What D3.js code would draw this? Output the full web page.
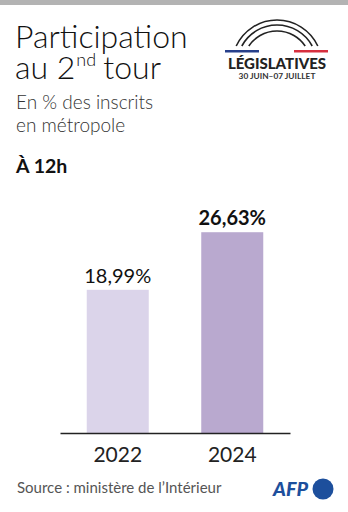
<!DOCTYPE html>
<html lang="fr">
<head>
<meta charset="utf-8">
<script src="https://cdn.jsdelivr.net/npm/d3@7"></script>
<style>
  html, body { margin: 0; padding: 0; background: #fff; }
  svg { display: block; font-family: Lato, "Noto Sans", sans-serif; }
</style>
</head>
<body>
<svg id="chart" width="348" height="512"></svg>
<script>
// Participation au 2nd tour, à 12h, en % des inscrits en métropole
const years = ["2022", "2024"];
const turnout = [18.99, 26.63];
const barColors = ["#dbd4ea", "#b9a9cf"];
const labelWeights = [400, 700];

const fr = d3.formatLocale({ decimal: ",", thousands: " ", grouping: [3], currency: ["", " €"] });
const pct = v => fr.format(".2f")(v) + "%";

const svg = d3.select("#chart");

// top grey rule
svg.append("rect").attr("x", 0).attr("y", 0).attr("width", 348).attr("height", 5).attr("fill", "#b3b3b3");

// headings
const head = (txt, x, yy, size, weight, fill) =>
  svg.append("text").attr("x", x).attr("y", yy).attr("font-size", size)
    .attr("font-weight", weight).attr("fill", fill).text(txt);

head("Participation", 15, 48, 32, 300, "#111");
const line2 = head("au 2", 15, 79, 32, 300, "#111");
const w2 = line2.node().getComputedTextLength();
head("nd", 15 + w2 + 1, 66, 18, 300, "#111");
head("tour", 15 + w2 + 28, 79, 32, 300, "#111");

head("En % des inscrits", 16, 109, 19, 300, "#333");
head("en métropole", 16, 132, 19, 300, "#333");
head("À 12h", 16, 173, 19.5, 700, "#111");

// LÉGISLATIVES badge
const badge = svg.append("g");
const cx = 277, cy = 65;
[45, 40, 34].forEach(r => {
  const a = Math.asin(19 / r);
  const x0 = cx - r * Math.cos(a), x1 = cx + r * Math.cos(a), y0 = cy - 19;
  badge.append("path")
    .attr("d", `M${x0},${y0} A${r},${r} 0 0 1 ${x1},${y0}`)
    .attr("fill", "none").attr("stroke", "#222").attr("stroke-width", 1.6);
});
badge.append("rect").attr("x", 225).attr("y", 50).attr("width", 34).attr("height", 2.5).attr("fill", "#27408b");
badge.append("rect").attr("x", 294).attr("y", 50).attr("width", 34).attr("height", 2.5).attr("fill", "#d6303f");
badge.append("text").attr("x", 277).attr("y", 69).attr("text-anchor", "middle")
  .attr("font-weight", 900).attr("font-size", 15).attr("fill", "#222").text("LÉGISLATIVES");
badge.append("text").attr("x", 277).attr("y", 79).attr("text-anchor", "middle")
  .attr("font-weight", 700).attr("font-size", 8.3).attr("fill", "#333").text("30 JUIN–07 JUILLET");

// scales
const x = d3.scaleBand().domain(years).range([60, 290]).paddingInner(0.4585).paddingOuter(0.2336);
const y = d3.scaleLinear().domain([0, 30]).range([433, 206.8]);

const data = years.map((yr, i) => ({ yr, v: turnout[i], color: barColors[i], w: labelWeights[i] }));

svg.append("g").selectAll("rect").data(data).join("rect")
  .attr("x", d => x(d.yr)).attr("width", x.bandwidth())
  .attr("y", d => y(d.v)).attr("height", d => y(0) - y(d.v))
  .attr("fill", d => d.color);

svg.append("g").selectAll("text").data(data).join("text")
  .attr("x", d => x(d.yr) + x.bandwidth() / 2).attr("y", d => y(d.v) - 7)
  .attr("text-anchor", "middle").attr("font-size", 20).attr("font-weight", d => d.w)
  .attr("fill", "#111").text(d => pct(d.v));

// baseline + year axis
const axis = svg.append("g").attr("transform", `translate(0,${y(0)})`)
  .call(d3.axisBottom(x).tickSize(0).tickPadding(14));
axis.select(".domain").attr("stroke", "#222").attr("stroke-width", 1.3);
axis.selectAll(".tick text").attr("font-family", "Lato, sans-serif").attr("font-size", 21)
  .attr("fill", "#222").attr("dy", "0.71em");

// source & logo
svg.append("text").attr("x", 17).attr("y", 493).attr("font-size", 15).attr("fill", "#555")
  .attr("font-weight", 400).text("Source : ministère de l’Intérieur");
svg.append("text").attr("x", 273).attr("y", 496).attr("font-size", 18).attr("font-weight", 900)
  .attr("font-style", "italic").attr("fill", "#1d4f9c")
  .attr("textLength", 35).attr("lengthAdjust", "spacingAndGlyphs").text("AFP");
svg.append("circle").attr("cx", 323).attr("cy", 489).attr("r", 10.5).attr("fill", "#1d4f9c");
</script>
</body>
</html>
